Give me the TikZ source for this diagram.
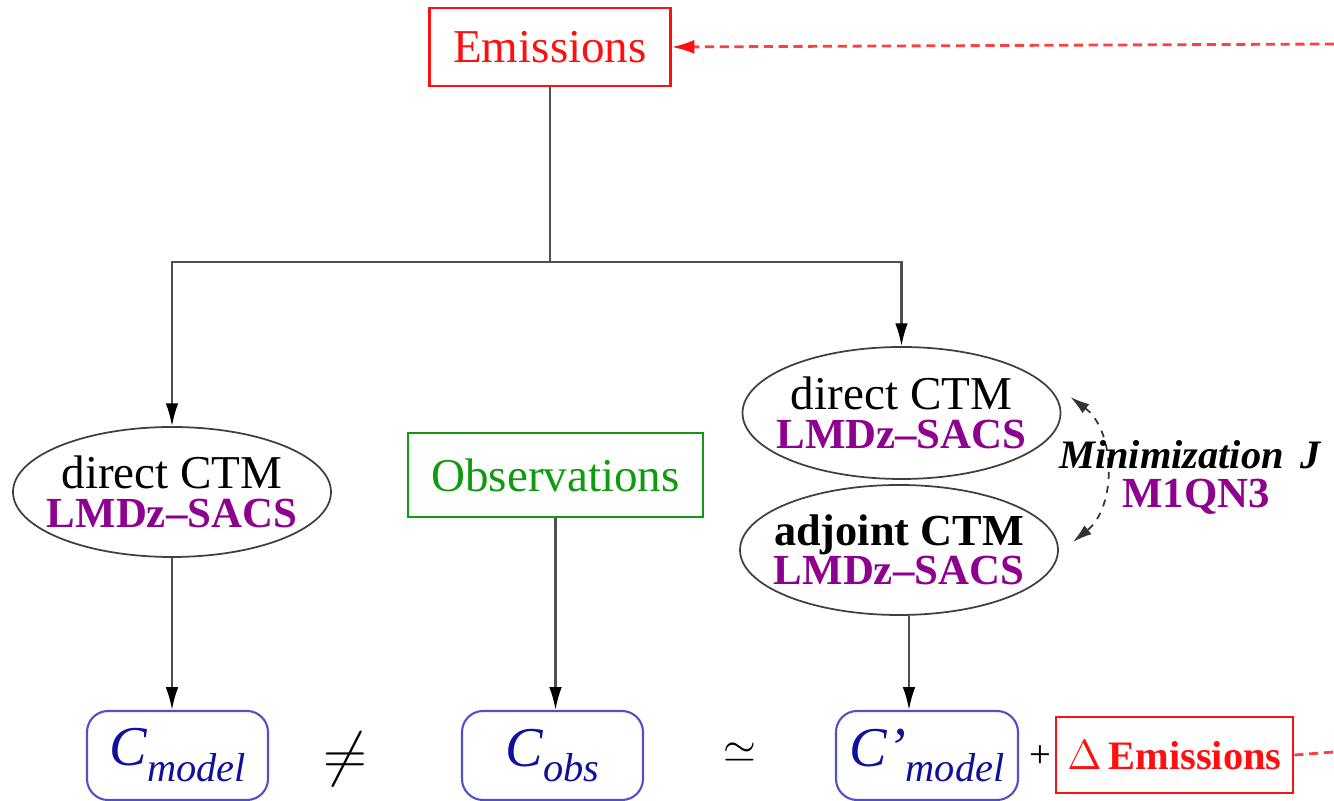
\documentclass[tikz,border=0pt]{standalone}
\usepackage{fontspec}
\setmainfont{Liberation Serif}
\usetikzlibrary{arrows.meta, shapes.geometric}
\definecolor{emisred}{HTML}{FF1010}
\definecolor{obsgreen}{HTML}{109A10}
\definecolor{lmdzpurple}{HTML}{8E008E}
\definecolor{concblue}{HTML}{10109E}
\definecolor{boxblue}{HTML}{5050C8}
\definecolor{linegray}{HTML}{505050}

\newcommand{\concsub}[2]{\textit{#1}\raisebox{-4.5pt}{\fontsize{11.5}{12}\selectfont\itshape #2}}

\begin{document}
\begin{tikzpicture}[
    ctm/.style={ellipse, draw=black!75, line width=0.5pt, minimum width=3.18cm, minimum height=1.30cm, inner xsep=-0.13cm, inner ysep=0pt, align=center, font=\fontsize{13.4}{11}\selectfont},
    databox/.style={draw, line width=0.6pt, minimum height=0.8cm, font=\fontsize{13.4}{14}\selectfont},
    conc/.style={rounded corners=6pt, draw=boxblue, line width=0.6pt, text=concblue, minimum width=1.81cm, minimum height=0.89cm, font=\fontsize{16}{16}\selectfont},
    link/.style={draw=linegray, line width=0.6pt},
    arr/.style={link, -{Latex[length=6.5pt, width=3.6pt, color=black]}},
    feedback/.style={draw=emisred!80, line width=0.8pt, dash pattern=on 2.6pt off 1.6pt},
]
\useasboundingbox (0,0) rectangle (13.34,-8.01);

% Emissions (top)
\node[databox, draw=emisred, text=emisred, minimum width=2.41cm, minimum height=0.78cm] (emis) at (5.50,-0.47) {Emissions};

% CTM runs
\node[ctm] (dleft) at (1.72,-4.92) {direct CTM\\{\fontsize{12.2}{11}\selectfont\bfseries\textcolor{lmdzpurple}{LMDz--SACS}}};
\node[ctm, minimum height=1.32cm] (dtop) at (9.015,-4.13) {direct CTM\\{\fontsize{12.2}{11}\selectfont\bfseries\textcolor{lmdzpurple}{LMDz--SACS}}};
\node[ctm] (adj) at (8.99,-5.50) {\fontsize{12.6}{11}\selectfont\bfseries adjoint CTM\\{\fontsize{12.2}{11}\selectfont\bfseries\textcolor{lmdzpurple}{LMDz--SACS}}};

% Observations
\node[databox, draw=obsgreen, text=obsgreen, minimum width=2.95cm, minimum height=0.84cm] (obs) at (5.555,-4.75) {Observations};

% Minimization
\draw[black!80, line width=0.5pt, dash pattern=on 2pt off 2pt, {Latex[length=5.5pt, width=3.2pt]}-{Latex[length=5.5pt, width=3.2pt]}] ([xshift=0.09cm, yshift=0.16cm]dtop.east) to[bend left=52] ([xshift=0.14cm, yshift=0.08cm]adj.east);
\node[font=\fontsize{11.5}{12}\selectfont\bfseries\itshape] (minim) at (11.90,-4.55) {Minimization \,J};
\node[font=\fontsize{12.2}{12}\selectfont\bfseries, text=lmdzpurple] (mqn) at (11.96,-4.97) {M1QN3};

% Concentrations (bottom)
\node[conc] (cmod) at (1.775,-7.555) {\concsub{C}{model}};
\node[font=\fontsize{16}{16}\selectfont] (neq) at (3.45,-7.59) {$\neq$};
\node[conc] (cobs) at (5.525,-7.555) {\concsub{C}{obs}};
\node[font=\fontsize{12}{12}\selectfont] (simeq) at (7.40,-7.53) {$\simeq$};
\node[conc, minimum width=1.82cm] (cpmod) at (9.27,-7.555) {\concsub{C'}{model}};
\node[font=\fontsize{11}{12}\selectfont] (plus) at (10.40,-7.57) {+};
\node[databox, draw=emisred, text=emisred, minimum width=2.25cm, minimum height=0.76cm, font=\fontsize{11.5}{12}\selectfont\bfseries] (demis) at (11.745,-7.55) {$\Delta$\,Emissions};

% Tree from Emissions
\coordinate (split) at (5.50,-2.62);
\draw[link] (emis.south) -- (split);
\draw[arr] (split) -| (dleft.north);
\draw[arr] (split) -| (dtop.north);

% Down to concentrations
\draw[arr] (dleft.south) -- (dleft.south |- cmod.north);
\draw[arr] (obs.south) -- (obs.south |- cobs.north);
\draw[arr] ([xshift=1mm]adj.south) -- ([xshift=1mm]adj.south |- cpmod.north);

% Feedback loop (leaves the picture)
\coordinate (loopR) at (13.34,-7.52);
\coordinate (loopT) at (13.34,-0.44);
\draw[feedback] (demis.east) -- (loopR);
\draw[feedback, -{Latex[length=6.5pt, width=4pt, color=emisred]}] (loopT) -- (emis.east);

\end{tikzpicture}
\end{document}
